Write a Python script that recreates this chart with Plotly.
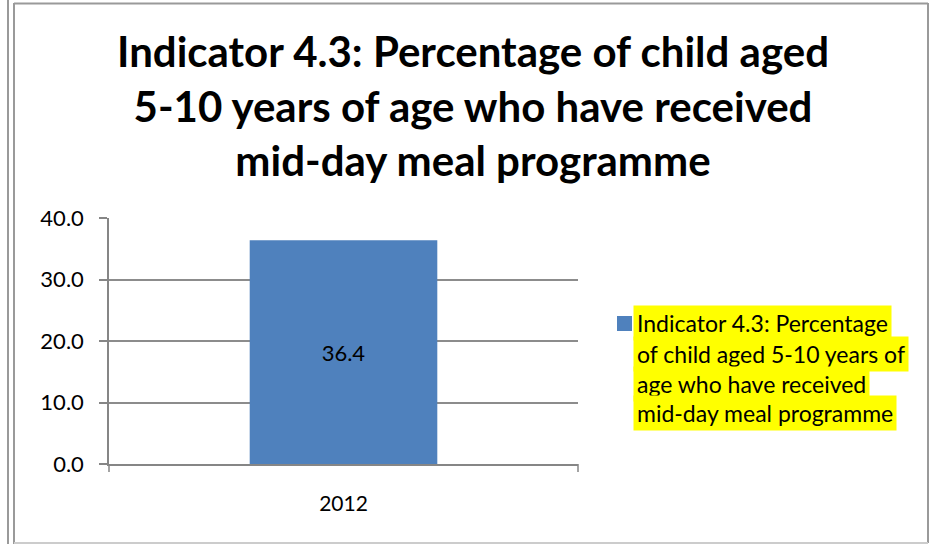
import plotly.graph_objects as go

categories = ["2012"]
values = [36.4]
series_name = "Indicator 4.3: Percentage of child aged 5-10 years of age who have received mid-day meal programme"
legend_lines = ["Indicator 4.3: Percentage", "of child aged 5-10 years of", "age who have received", "mid-day meal programme"]
title_lines = ["Indicator 4.3: Percentage of child aged", "5-10 years of age who have received", "mid-day meal programme"]
y_ticks = [0, 10, 20, 30, 40]

W, H = 930, 544
L, R, T, B = 109, 578, 218, 464

def px(x):
    return (x - L) / (R - L)

def py(y):
    return (B - y) / (B - T)

FONT = "Lato"
BAR = "#4F81BD"

fig = go.Figure()
fig.add_trace(go.Bar(
    x=categories, y=values, name=series_name,
    marker=dict(color=BAR, line=dict(width=0)),
    text=[f"{v:.1f}" for v in values], textposition="inside",
    insidetextanchor="middle",
    textfont=dict(family=FONT, size=22, color="black"),
    showlegend=False, width=0.4,
))

shapes = []
gray = "#9a9a9a"
shapes.append(dict(type="line", xref="paper", yref="paper", x0=px(8), x1=px(8), y0=py(0), y1=py(544), line=dict(color=gray, width=2)))
shapes.append(dict(type="line", xref="paper", yref="paper", x0=px(14), x1=px(14), y0=py(3), y1=py(544), line=dict(color=gray, width=2)))
shapes.append(dict(type="line", xref="paper", yref="paper", x0=px(14), x1=px(928), y0=py(3.5), y1=py(3.5), line=dict(color=gray, width=2)))
shapes.append(dict(type="line", xref="paper", yref="paper", x0=px(928), x1=px(928), y0=py(3), y1=py(543), line=dict(color=gray, width=2)))
shapes.append(dict(type="line", xref="paper", yref="paper", x0=px(14), x1=px(928), y0=py(543), y1=py(543), line=dict(color="#cccccc", width=2)))
for xx in (L, R):
    shapes.append(dict(type="line", xref="paper", yref="paper", x0=px(xx), x1=px(xx), y0=py(464), y1=py(472), line=dict(color="#868686", width=1.5)))
shapes.append(dict(type="rect", xref="paper", yref="paper", x0=px(617), x1=px(632), y0=py(316), y1=py(331), fillcolor=BAR, line=dict(width=0)))

annotations = []
annotations.append(dict(text="<br>".join(title_lines), xref="paper", yref="paper",
                        x=px(473), y=py(106), xanchor="center", yanchor="middle",
                        showarrow=False, align="center",
                        font=dict(family=FONT, size=42, color="black", weight="bold")))
line_y = [323, 354, 384, 413]
for txt, yy in zip(legend_lines, line_y):
    annotations.append(dict(text=txt, xref="paper", yref="paper", x=px(633), y=py(yy),
                            xanchor="left", yanchor="middle", showarrow=False,
                            bgcolor="#FFFF00", borderpad=3,
                            font=dict(family=FONT, size=23, color="black")))

fig.update_layout(
    width=W, height=H,
    margin=dict(l=L, r=W - R, t=T, b=H - B, pad=0),
    paper_bgcolor="white", plot_bgcolor="white",
    shapes=shapes, annotations=annotations,
    xaxis=dict(showline=True, linecolor="#868686", linewidth=2, ticks="",
               tickfont=dict(family=FONT, size=21, color="black"),
               ticklabelstandoff=20, range=[-0.5, 0.5], fixedrange=True),
    yaxis=dict(range=[0, 40], tickvals=y_ticks, ticktext=[f"{v:.1f}" for v in y_ticks],
               showgrid=True, gridcolor="#8c8c8c", gridwidth=1.5,
               showline=True, linecolor="#868686", linewidth=1.5,
               ticks="outside", ticklen=8, tickcolor="#868686", tickwidth=1.5,
               ticklabelstandoff=11, zeroline=False, fixedrange=True,
               tickfont=dict(family=FONT, size=22, color="black")),
    bargap=0.6,
)

fig.write_html("out.html", config={"displayModeBar": False},
               post_script="document.body.style.margin='0px';document.body.style.overflow='hidden';")
